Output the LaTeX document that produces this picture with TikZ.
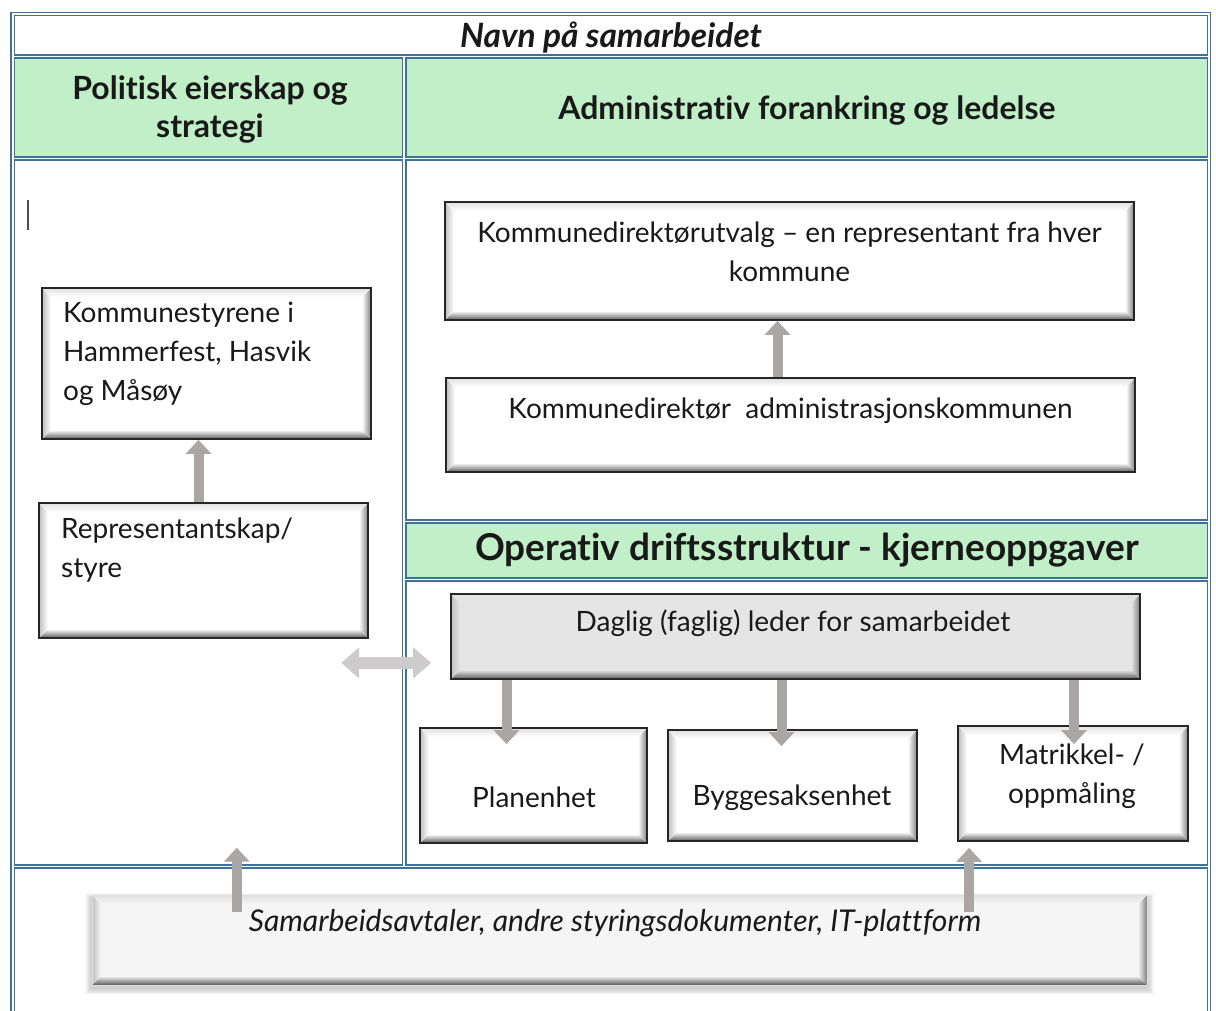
\documentclass[tikz,border=0pt]{standalone}
\usepackage{fontspec}
\setmainfont{Lato}[Ligatures=NoCommon]
\usetikzlibrary{arrows.meta,calc}
\definecolor{cellblue}{RGB}{62,114,152}
\definecolor{hgreen}{RGB}{193,239,199}
\definecolor{arrgray}{RGB}{170,166,165}
\definecolor{arrlight}{RGB}{205,203,203}
\tikzset{
  cell/.style={draw=cellblue, line width=1.4pt, inner sep=0pt},
  hcell/.style={cell, fill=hgreen},
  bev/.style={draw=black!85, line width=1.8pt, fill=#1, inner sep=0pt,
    path picture={
      \coordinate (pSW) at (path picture bounding box.south west);
      \coordinate (pSE) at (path picture bounding box.south east);
      \coordinate (pNW) at (path picture bounding box.north west);
      \coordinate (pNE) at (path picture bounding box.north east);
      \shade[top color=#1, bottom color=black!65] (pSW) -- (pSE) -- ([shift={(-9pt,9pt)}]pSE) -- ([shift={(9pt,9pt)}]pSW) -- cycle;
      \shade[left color=#1, right color=black!50] (pSE) -- (pNE) -- ([shift={(-9pt,-9pt)}]pNE) -- ([shift={(-9pt,9pt)}]pSE) -- cycle;
      \shade[right color=#1, left color=black!25] (pSW) -- (pNW) -- ([shift={(9pt,-9pt)}]pNW) -- ([shift={(9pt,9pt)}]pSW) -- cycle;
      \shade[bottom color=#1, top color=black!12] (pNW) -- (pNE) -- ([shift={(-9pt,-9pt)}]pNE) -- ([shift={(9pt,-9pt)}]pNW) -- cycle;
    }},
  bev/.default=white,
  blk/.style={draw=arrgray, line width=10pt, -{Triangle[width=25pt,length=14pt]}},
  blkl/.style={draw=arrlight, line width=12pt, {Triangle[width=30pt,length=18pt]}-{Triangle[width=30pt,length=18pt]}},
  hfont/.style={font=\fontsize{32}{38}\selectfont\bfseries},
  bfont/.style={font=\fontsize{28}{39}\selectfont},
  txt/.style={inner sep=0pt, text=black!90}
}
\begin{document}
\begin{tikzpicture}[x=1pt,y=-1pt]
\useasboundingbox (0,0) rectangle (1216,1010);
\fill[white] (0,0) rectangle (1216,1010);
% table
\draw[cellblue, line width=1.4pt] (11,12.5) rectangle (1210.5,1030);
\node[cell, minimum width=1193pt, minimum height=39.5pt] (title) at (611,35.25) {};
\node[txt, font=\fontsize{33.5}{36}\selectfont\bfseries\itshape] (titletxt) at (611,37) {Navn på samarbeidet};
\node[hcell, minimum width=388pt, minimum height=99pt] (hl) at (208.5,107.5) {};
\node[txt, hfont, align=center] (hltxt) at (210,109) {Politisk eierskap og\\strategi};
\node[hcell, minimum width=801.5pt, minimum height=99pt] (hr) at (806.75,107.5) {};
\node[txt, hfont] (hrtxt) at (807,110) {Administrativ forankring og ledelse};
\node[cell, minimum width=388pt, minimum height=705pt] (bl) at (208.5,512.5) {};
\node[cell, minimum width=801.5pt, minimum height=360pt] (ar) at (806.75,340) {};
\node[hcell, minimum width=801.5pt, minimum height=55pt] (oh) at (806.75,550.5) {};
\node[txt, font=\fontsize{37}{40}\selectfont\bfseries] (ohtxt) at (807,550) {Operativ driftsstruktur - kjerneoppgaver};
\node[cell, minimum width=801.5pt, minimum height=284pt] (ob) at (806.75,723) {};
\node[cell, minimum width=1193pt, minimum height=160pt] (bot) at (611,948) {};
% cursor mark
\draw[black!70, line width=1.5pt] (28,200) -- (28,230);
% left boxes
\node[bev, minimum width=329pt, minimum height=151pt] (kom) at (206.5,363.5) {};
\node[txt, bfont, align=left, anchor=north west] (komtxt) at (63,302) {Kommunestyrene i\\Hammerfest, Hasvik\\og Måsøy};
\node[bev, minimum width=329pt, minimum height=135pt] (rep) at (203.5,570.5) {};
\node[txt, bfont, align=left, anchor=north west] (reptxt) at (61,518) {Representantskap/\\styre};
% admin boxes
\node[bev, minimum width=689pt, minimum height=118pt] (kdu) at (789.5,261) {};
\node[txt, bfont, align=center] (kdutxt) at (789.5,252) {Kommunedirektørutvalg – en representant fra hver\\kommune};
\node[bev, minimum width=689pt, minimum height=94pt] (kda) at (790.5,425) {};
\node[txt, bfont] (kdatxt) at (790.5,411) {Kommunedirektør\ \ administrasjonskommunen};
% operative boxes
\node[bev=black!10, minimum width=689pt, minimum height=85pt] (dag) at (795.5,636.5) {};
\node[txt, bfont] (dagtxt) at (793,623) {Daglig (faglig) leder for samarbeidet};
\node[bev, minimum width=227pt, minimum height=115pt] (plan) at (533.5,785.5) {};
\node[txt, bfont] (plantxt) at (534,797) {Planenhet};
\node[bev, minimum width=249pt, minimum height=111pt] (bygg) at (792.5,785.5) {};
\node[txt, bfont] (byggtxt) at (792,798) {Byggesaksenhet};
\node[bev, minimum width=230pt, minimum height=115pt] (mat) at (1073,783.5) {};
\node[txt, bfont, align=center] (mattxt) at (1072,776) {Matrikkel- /\\oppmåling};
% bottom box with soft shadow
\foreach \i in {1,...,8}
  \fill[black, opacity=0.025] ($(92,895)+(-\i*0.9,-\i*0.6+3)$) rectangle ($(1147,985)+(\i*0.9,\i*0.9+3)$);
\node[bev=black!4, draw=black!12, line width=0.8pt, minimum width=1055pt, minimum height=90pt] (avt) at (619.5,940) {};
\node[txt, font=\fontsize{30}{32}\selectfont\itshape] (avttxt) at (615,923) {Samarbeidsavtaler, andre styringsdokumenter, IT-plattform};
% arrows
\draw[blk] ([xshift=-5pt]rep.north) -- ([xshift=-5pt]rep.north |- kom.south);
\draw[blk] ([xshift=-13pt]kda.north) -- ([xshift=-13pt]kda.north |- kdu.south);
\draw[blk] ([xshift=-27pt]plan.north |- dag.south) -- ([xshift=-27pt,yshift=-17pt]plan.north);
\draw[blk] ([xshift=-11pt]bygg.north |- dag.south) -- ([xshift=-11pt,yshift=-17pt]bygg.north);
\draw[blk] ([xshift=1pt]mat.north |- dag.south) -- ([xshift=1pt,yshift=-19pt]mat.north);
\coordinate (upL) at ([xshift=223pt,yshift=18pt]bl.south west);
\coordinate (upR) at ([xshift=12pt,yshift=-6pt]mat.south west);
\draw[blk] ([yshift=-17pt]avt.north -| upL) -- (upL);
\draw[blk] ([yshift=-17pt]avt.north -| upR) -- (upR);
\coordinate (dL) at ([xshift=-62pt]bl.east |- dag.south);
\coordinate (dR) at ([xshift=28pt]bl.east |- dag.south);
\draw[blkl] ([yshift=17pt]dL) -- ([yshift=17pt]dR);
\end{tikzpicture}
\end{document}
